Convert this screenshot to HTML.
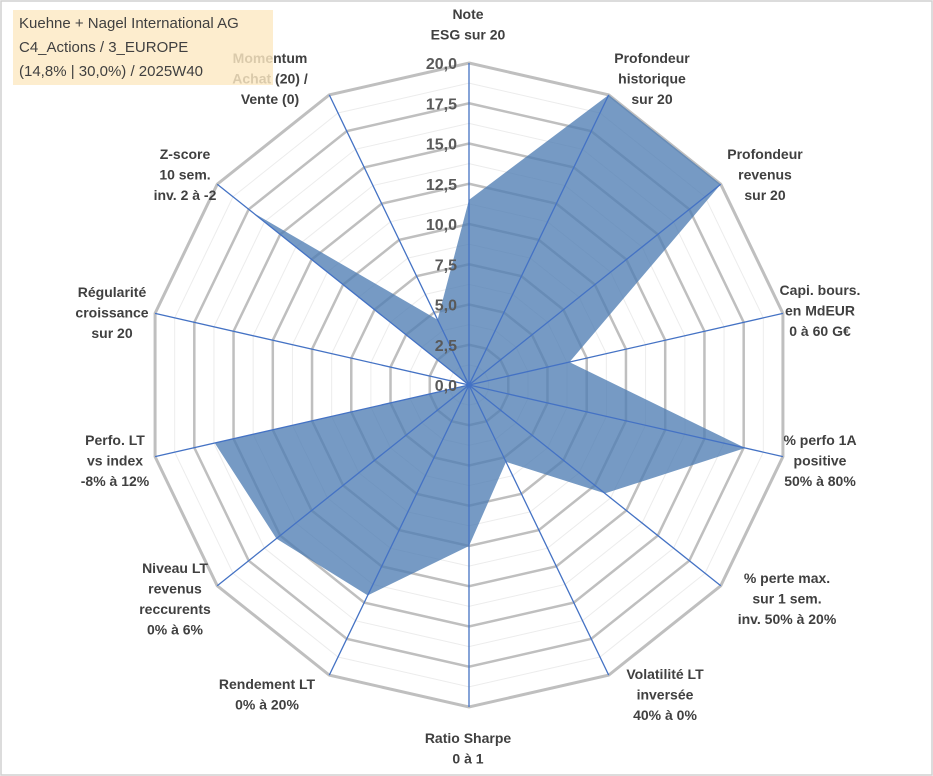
<!DOCTYPE html>
<html><head><meta charset="utf-8"><style>
body{margin:0;background:#fff;}
#wrap{position:relative;width:933px;height:776px;overflow:hidden;background:#fff;}
svg{position:absolute;left:0;top:0;}
.lbl{font-family:"Liberation Sans",Arial,sans-serif;font-weight:bold;font-size:14px;fill:#404040;text-anchor:middle;}
.tick{font-family:"Liberation Sans",Arial,sans-serif;font-weight:bold;font-size:16px;fill:#595959;text-anchor:end;}
#title{position:absolute;left:13px;top:10px;width:260px;height:75px;background:rgba(253,233,195,0.82);font-family:"Liberation Sans",sans-serif;font-size:15px;color:#404040;line-height:24px;padding:2px 0 0 6px;box-sizing:border-box;}
</style></head><body>
<div id="wrap">
<svg id="chart" width="933" height="776">
<rect x="1" y="1" width="931" height="774" fill="none" stroke="#d0d0d0" stroke-width="1.5"/>
</svg>
<div id="title">Kuehne + Nagel International AG<br>C4_Actions / 3_EUROPE<br>(14,8% | 30,0%) / 2025W40</div>
</div>
<script>
const categories=[
["Note","ESG sur 20"],
["Profondeur","historique","sur 20"],
["Profondeur","revenus","sur 20"],
["Capi. bours.","en MdEUR","0 à 60 G€"],
["% perfo 1A","positive","50% à 80%"],
["% perte max.","sur 1 sem.","inv. 50% à 20%"],
["Volatilité LT","inversée","40% à 0%"],
["Ratio Sharpe","0 à 1"],
["Rendement LT","0% à 20%"],
["Niveau LT","revenus","reccurents","0% à 6%"],
["Perfo. LT","vs index","-8% à 12%"],
["Régularité","croissance","sur 20"],
["Z-score","10 sem.","inv. 2 à -2"],
["Momentum","Achat (20) /","Vente (0)"]
];
const values=[11.5,20,20,6.4,17.6,10.8,5.3,10,14.5,15.3,16.2,0,17.2,4.5];
const tickValues=[0,2.5,5,7.5,10,12.5,15,17.5,20];
const tickLabels=["0,0","2,5","5,0","7,5","10,0","12,5","15,0","17,5","20,0"];
const labelPos=[[468,14],[652,58],[765,154],[820,290],[820,440],[787,578],[665,674],[468,738],[267,684],[175,568],[115,440],[112,292],[185,154],[270,58]];

const svg=document.getElementById('chart');
const NS='http://www.w3.org/2000/svg';
const cx=469,cy=385,R=322,maxV=20,n=categories.length;
function ang(i){return i*2*Math.PI/n;}
function pt(i,v){const r=v/maxV*R;return [cx+r*Math.sin(ang(i)),cy-r*Math.cos(ang(i))];}
function mk(tag,attrs){const e=document.createElementNS(NS,tag);for(const k in attrs)e.setAttribute(k,attrs[k]);svg.appendChild(e);return e;}
function ring(v){let s=[];for(let i=0;i<n;i++)s.push(pt(i,v).join(','));return s.join(' ');}
for(let k=0;k<tickValues.length-1;k++){
  const v=(tickValues[k]+tickValues[k+1])/2;
  const e=mk('polygon',{points:ring(v),fill:'none',stroke:'#ececec','stroke-width':1});
  
  
}
tickValues.forEach((v,k)=>{if(v===0)return;
  const e=mk('polygon',{points:ring(v),fill:'none',stroke:'#bfbfbf','stroke-width':v===maxV?3:2.5});
  
  
});
const pts=values.map((v,i)=>pt(i,v).join(',')).join(' ');
const poly=mk('polygon',{points:pts,fill:'#4f7db3','fill-opacity':0.78,stroke:'none'});


for(let i=0;i<n;i++){const p=pt(i,maxV);
  const l=mk('line',{x1:cx,y1:cy,x2:p[0],y2:p[1],stroke:'#4472c4','stroke-width':1.3});
  
  
}
tickValues.forEach((v,k)=>{
  const t=mk('text',{x:cx-12,y:cy-v/maxV*R+6,class:'tick'});t.textContent=tickLabels[k];
  
  
});
categories.forEach((lines,i)=>{
  const t=mk('text',{class:'lbl'});
  
  
  lines.forEach((s,j)=>{const ts=document.createElementNS(NS,'tspan');ts.setAttribute('x',labelPos[i][0]);ts.setAttribute('y',labelPos[i][1]+5+j*20.5);ts.textContent=s;t.appendChild(ts);});
});
</script>
</body></html>
